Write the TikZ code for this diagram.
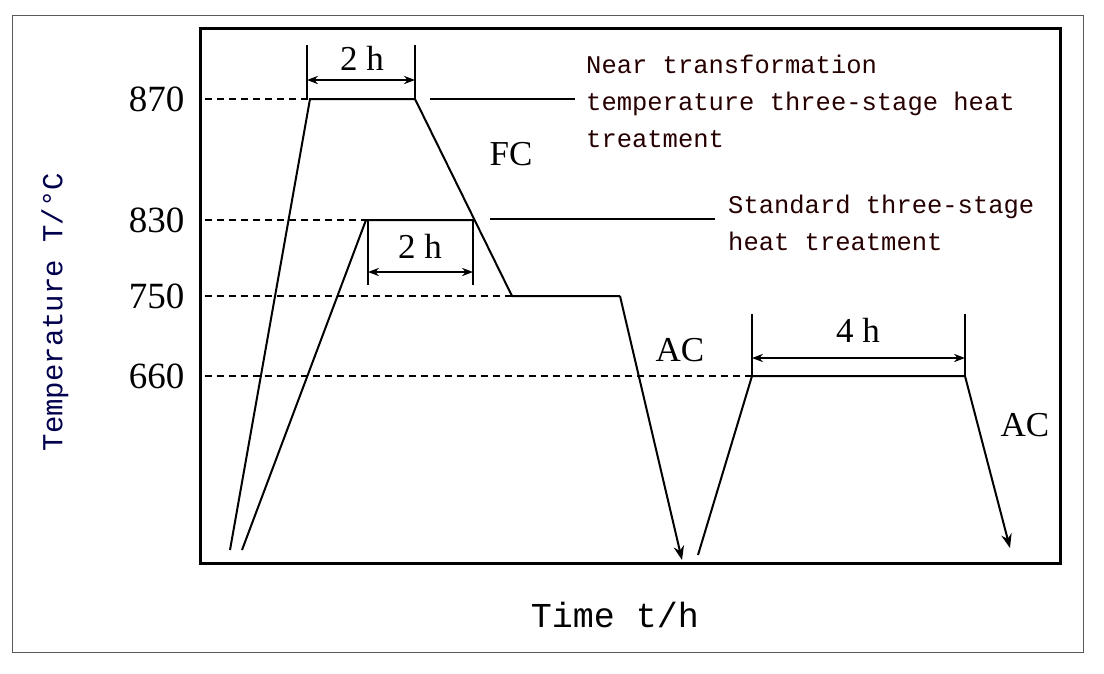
\documentclass[tikz,border=0pt]{standalone}
\usepackage{fontspec}
\setmainfont{Liberation Serif}
\newfontfamily\monof{Liberation Mono}
\usetikzlibrary{arrows.meta}
\begin{document}
\begin{tikzpicture}[x=1pt,y=-1pt,
  curve/.style={line width=2pt},
  dashline/.style={dash pattern=on 7pt off 5pt,line width=1.5pt},
  dim/.style={line width=1.6pt,{Stealth[length=11pt]}-{Stealth[length=11pt]}},
  tickl/.style={line width=1.6pt},
  num/.style={font=\fontsize{37}{37}\selectfont,anchor=east},
  note/.style={font=\monof\fontsize{25.5}{37}\selectfont,anchor=north west,align=left,inner sep=0,text=black!85!red},
  lab/.style={font=\fontsize{35}{35}\selectfont}]
\useasboundingbox (0,0) rectangle (1104,673);
\draw[line width=1pt,gray!70!black] (12,15) rectangle (1083,652);
\draw[line width=3pt] (200,28) rectangle (1060,563);
\coordinate (a0) at (230,550); \coordinate (a1) at (310,99); \coordinate (a2) at (415,99);
\coordinate (a3) at (512,296); \coordinate (a4) at (620,296); \coordinate (a5) at (682,560);
\coordinate (b0) at (242,550); \coordinate (b1) at (366,220); \coordinate (b2) at (473,220);
\coordinate (c0) at (698,555); \coordinate (c1) at (752,376); \coordinate (c2) at (965,376); \coordinate (c3) at (1010,548);
\coordinate (l870) at (205,99); \coordinate (l830) at (205,220); \coordinate (l750) at (205,296); \coordinate (l660) at (205,376);
\draw[dashline] (l870) -- (a1); \draw[dashline] (l830) -- (b1); \draw[dashline] (l750) -- (a3); \draw[dashline] (l660) -- (c1);
\draw[curve] (a0) -- (a1) -- (a2) -- (a3) -- (a4);
\draw[curve,-{Stealth[length=14pt]}] (a4) -- (a5);
\draw[curve] (b0) -- (b1) -- (b2);
\draw[curve] (c0) -- (c1) -- (c2);
\draw[curve,-{Stealth[length=14pt]}] (c2) -- (c3);
\draw[tickl] (307,45) -- (307,99) (415,45) -- (415,99);
\draw[dim] (307,80) -- (415,80);
\node[lab] at (362,58) {2 h};
\draw[tickl] (368,220) -- (368,285) (473,220) -- (473,285);
\draw[dim] (368,272) -- (473,272);
\node[lab] at (420,246) {2 h};
\draw[tickl] (752,314) -- (752,376) (965,314) -- (965,376);
\draw[dim] (752,358) -- (965,358);
\node[lab] at (858,330) {4 h};
\draw[line width=1.6pt] (430,99) -- (575,99);
\draw[line width=1.6pt] (490,219) -- (715,219);
\node[note] at (586,55) {Near transformation\\temperature three-stage heat\\treatment};
\node[note] at (728,195) {Standard three-stage\\heat treatment};
\node[lab] at (511,154) {FC};
\node[lab] at (680,350) {AC};
\node[lab] at (1025,425) {AC};
\node[num] at (188,99) {870}; \node[num] at (188,220) {830};
\node[num] at (188,296) {750}; \node[num] at (188,376) {660};
\node[font=\monof\fontsize{29}{29}\selectfont,rotate=90,text=blue!30!black] at (55,312) {Temperature T/°C};
\node[font=\monof\fontsize{35}{35}\selectfont] at (615,615) {Time t/h};
\end{tikzpicture}
\end{document}
